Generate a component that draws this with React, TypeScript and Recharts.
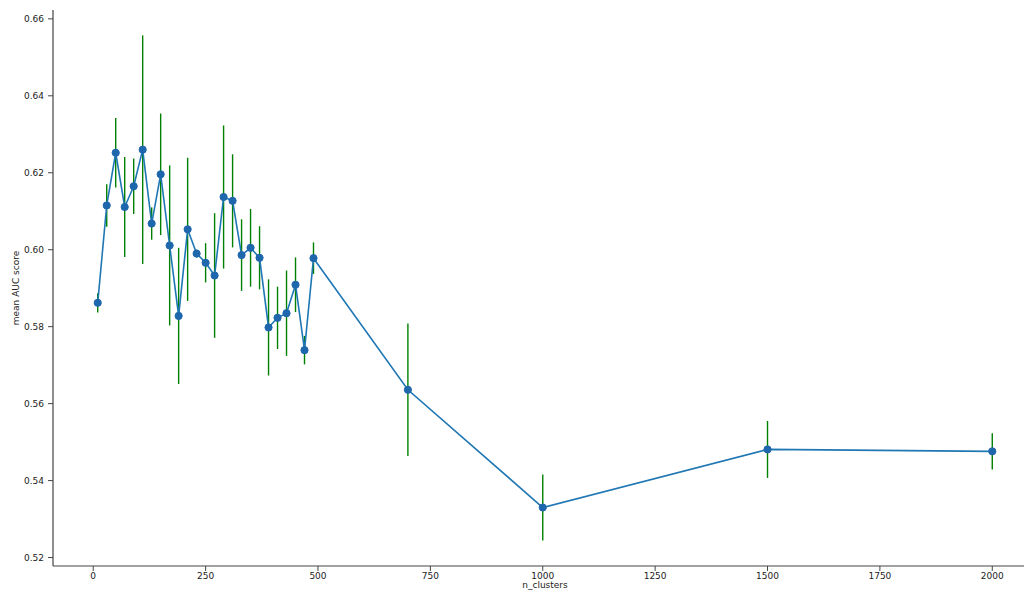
import {
  ComposedChart, Line, XAxis, YAxis, ErrorBar, Label,
} from "recharts";

// cluster counts swept in the experiment
const nClusters = [
  10, 30, 50, 70, 90, 110, 130, 150, 170, 190, 210, 230, 250, 270, 290,
  310, 330, 350, 370, 390, 410, 430, 450, 470, 490, 700, 1000, 1500, 2000,
];

// mean AUC over folds
const meanAuc = [
  0.5862, 0.6115, 0.6252, 0.6111, 0.6165, 0.626, 0.6068, 0.6196, 0.6011,
  0.5828, 0.6053, 0.599, 0.5966, 0.5933, 0.6137, 0.6127, 0.5986, 0.6005,
  0.5979, 0.5798, 0.5823, 0.5835, 0.5909, 0.5739, 0.5978, 0.5636, 0.533,
  0.5481, 0.5476,
];

// std of AUC over folds
const aucStd = [
  0.0025, 0.0055, 0.009, 0.013, 0.0072, 0.0297, 0.0042, 0.0158, 0.0208,
  0.0177, 0.0186, 0.001, 0.0051, 0.0162, 0.0186, 0.0121, 0.0093, 0.0101,
  0.0082, 0.0125, 0.0081, 0.0111, 0.0071, 0.0037, 0.0041, 0.0172, 0.0086,
  0.0074, 0.0047,
];

const xTicks = [0, 250, 500, 750, 1000, 1250, 1500, 1750, 2000];
const yTicks = [0.52, 0.54, 0.56, 0.58, 0.6, 0.62, 0.64, 0.66];

const X_DOMAIN: [number, number] = [-89.5, 2099.5];
const Y_DOMAIN: [number, number] = [0.5178, 0.6623];

const FONT = "DejaVu Sans";
const SPINE = "#444";
const TEXT = "#222";

const data = nClusters.map((n, i) => ({
  n,
  auc: meanAuc[i],
  std: aucStd[i],
}));

// eslint-disable-next-line @typescript-eslint/no-explicit-any
const XLabel = ({ viewBox }: any) => (
  <text
    x={viewBox.x + viewBox.width / 2}
    y={viewBox.y + 22}
    textAnchor="middle"
    fontFamily={FONT}
    fontSize={9}
    fill={TEXT}
  >
    n_clusters
  </text>
);

// eslint-disable-next-line @typescript-eslint/no-explicit-any
const YLabel = ({ viewBox }: any) => {
  const cx = viewBox.x + 16;
  const cy = viewBox.y + viewBox.height / 2;
  return (
    <text
      x={cx}
      y={cy}
      transform={`rotate(-90 ${cx} ${cy})`}
      textAnchor="middle"
      dominantBaseline="central"
      fontFamily={FONT}
      fontSize={9}
      fill={TEXT}
    >
      mean AUC score
    </text>
  );
};

export default function App() {
  const tickStyle = { fontSize: 9, fill: TEXT, fontFamily: FONT };
  return (
    <div
      style={{
        position: "absolute",
        left: 0,
        top: 0,
        width: 1024,
        height: 592,
        overflow: "hidden",
        background: "#fff",
      }}
    >
      <ComposedChart
        width={1045}
        height={600}
        data={data}
        margin={{ top: 10, right: 8, bottom: 0, left: 0 }}
      >
        <XAxis
          dataKey="n"
          type="number"
          domain={X_DOMAIN}
          ticks={xTicks}
          allowDataOverflow
          height={34}
          tick={tickStyle}
          tickSize={5}
          tickLine={{ stroke: SPINE }}
          axisLine={{ stroke: SPINE, strokeWidth: 1.2 }}
        >
          <Label content={<XLabel />} />
        </XAxis>
        <XAxis
          xAxisId="top"
          orientation="top"
          type="number"
          domain={X_DOMAIN}
          ticks={[]}
          height={0}
          tick={false}
          tickLine={false}
          axisLine={{ stroke: SPINE, strokeWidth: 1.2 }}
        />
        <YAxis
          type="number"
          domain={Y_DOMAIN}
          ticks={yTicks}
          allowDataOverflow
          width={53}
          tick={tickStyle}
          tickSize={5}
          tickMargin={4}
          tickLine={{ stroke: SPINE }}
          axisLine={{ stroke: SPINE, strokeWidth: 1.2 }}
          tickFormatter={(v: number) => v.toFixed(2)}
        >
          <Label content={<YLabel />} />
        </YAxis>
        <Line
          dataKey="auc"
          type="linear"
          stroke="#1f77b4"
          strokeWidth={1.6}
          dot={{ r: 3.6, fill: "#1f67ad", stroke: "#1f67ad", strokeWidth: 1 }}
          activeDot={false}
          isAnimationActive={false}
        >
          <ErrorBar
            dataKey="std"
            direction="y"
            width={0}
            stroke="#008000"
            strokeWidth={1.4}
          />
        </Line>
      </ComposedChart>
    </div>
  );
}
